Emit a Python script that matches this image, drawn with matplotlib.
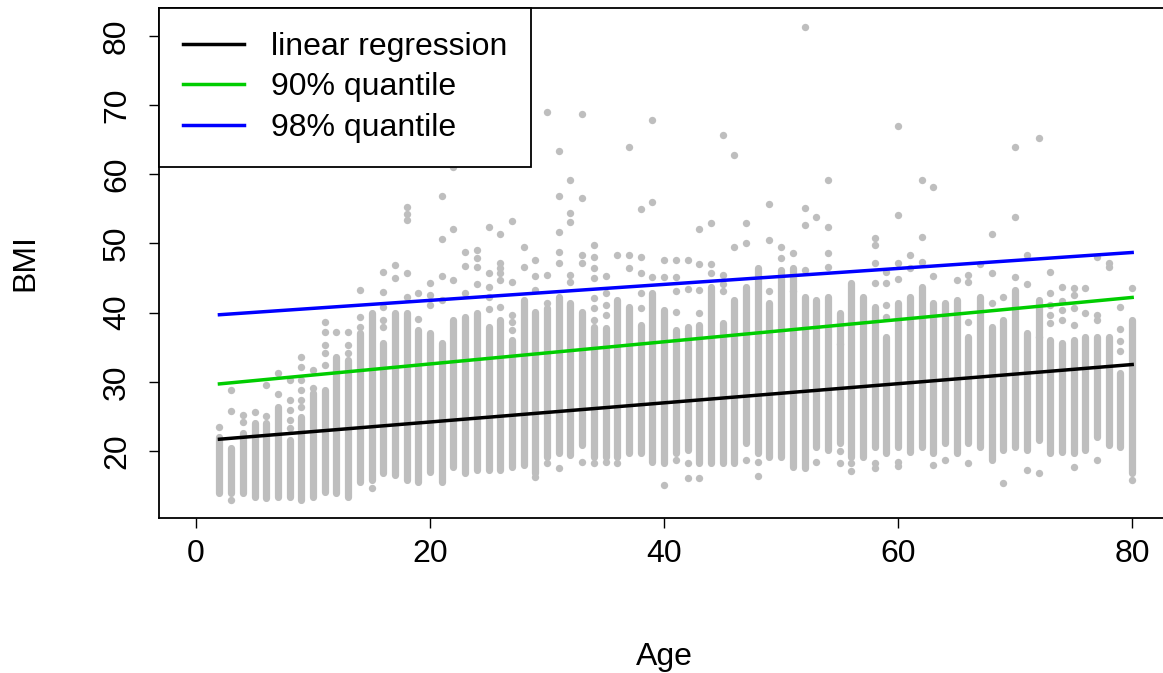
import numpy as np
import matplotlib
matplotlib.use("Agg")
import matplotlib.pyplot as plt

plt.rcParams['font.family'] = ['Liberation Sans', 'DejaVu Sans']

# ages with observations (one stripe per integer age)
ages = list(range(2, 81))
# dense part of each stripe (BMI low / high)
core_lo = [13.9, 13.9, 13.9, 13.4, 13.2, 13.4, 13.4, 12.9, 13.4, 14.1,
           13.9, 13.4, 15.5, 15.8, 16.8, 16.5, 15.8, 15.5, 17.0, 15.5,
           17.7, 16.8, 17.3, 17.3, 17.3, 17.7, 18.0, 16.8, 19.1, 19.7,
           19.4, 20.9, 19.1, 19.1, 19.1, 19.7, 19.7, 18.4, 18.3, 19.7,
           20.1, 18.3, 18.3, 18.3, 18.3, 21.2, 19.7, 19.1, 19.1, 17.7,
           17.5, 20.6, 20.1, 21.2, 19.1, 19.1, 20.6, 19.7, 20.6, 19.9,
           20.6, 19.7, 21.2, 19.7, 21.2, 20.6, 18.7, 20.1, 20.6, 20.1,
           21.6, 19.7, 19.9, 19.7, 20.1, 22.0, 20.9, 20.6, 16.8]
core_hi = [22.0, 20.4, 22.6, 24.0, 24.0, 26.4, 21.6, 24.9, 28.4, 28.8,
           33.6, 33.2, 37.1, 40.0, 35.6, 40.0, 40.0, 37.5, 37.1, 35.6,
           38.9, 39.4, 40.0, 37.9, 38.9, 36.0, 41.8, 40.1, 40.7, 42.3,
           41.4, 40.1, 37.9, 37.8, 41.8, 40.8, 38.2, 42.8, 40.4, 37.5,
           37.9, 38.2, 43.7, 38.5, 41.8, 43.7, 46.5, 41.4, 46.2, 46.5,
           42.3, 41.8, 42.3, 40.0, 44.3, 42.3, 40.8, 36.5, 41.4, 42.3,
           43.7, 41.4, 41.4, 41.8, 36.5, 42.3, 37.9, 38.9, 43.3, 37.1,
           41.8, 36.0, 35.6, 36.0, 36.5, 36.5, 36.5, 31.3, 38.9]

# isolated points outside the dense stripes
out_age = [2, 3, 3, 3, 4, 4, 5, 6, 6, 7, 7,
           8, 8, 8, 8, 8, 9, 9, 9, 9, 9, 9, 10, 10,
           11, 11, 11, 11, 11, 12, 13, 13, 13, 14, 14, 14, 15,
           16, 16, 16, 16, 16, 17, 17, 18, 18, 18, 18, 18, 19, 19,
           20, 20, 20, 21, 21, 21, 21, 22, 22, 22, 23, 23, 23,
           24, 24, 24, 24, 25, 25, 25, 25, 25, 25,
           26, 26, 26, 26, 26, 26, 27, 27, 27, 27, 27, 28, 28,
           29, 29, 29, 29, 30, 30, 30, 30, 31, 31, 31, 31, 31, 31,
           32, 32, 32, 32, 32, 33, 33, 33, 33, 33,
           34, 34, 34, 34, 34, 34, 34, 34, 35, 35, 35, 35, 35,
           36, 36, 37, 37, 37, 38, 38, 38, 38, 38, 39, 39, 39,
           40, 40, 40, 41, 41, 41, 41, 41, 42, 42, 42, 42,
           43, 43, 43, 43, 43, 44, 44, 44, 45, 45, 45, 45,
           46, 46, 47, 47, 47, 48, 48, 49, 49, 49, 50, 50, 51, 51,
           52, 52, 52, 52, 53, 53, 54, 54, 54, 54, 55, 55, 55, 56, 56,
           58, 58, 58, 58, 58, 58, 59, 59, 59, 59,
           60, 60, 60, 60, 60, 60, 61, 61, 62, 62, 62, 63, 63, 63,
           64, 65, 66, 66, 66, 66, 67, 68, 68, 68, 69, 69,
           70, 70, 70, 71, 71, 71, 72, 72, 72, 73, 73, 73, 73, 73,
           74, 74, 74, 74, 75, 75, 75, 75, 75, 76, 76,
           77, 77, 77, 77, 78, 78, 79, 79, 79, 79, 80, 80]
out_bmi = [23.5, 28.8, 25.8, 12.9, 25.2, 24.2, 25.6, 25.1, 29.5, 28.2, 31.3,
           23.3, 24.5, 25.9, 27.4, 30.3, 26.4, 27.4, 28.8, 30.3, 32.1, 33.6, 29.1, 31.7,
           32.4, 34.2, 35.3, 37.2, 38.6, 37.2, 34.2, 35.3, 37.2, 37.9, 39.4, 43.3, 14.7,
           37.9, 38.9, 40.8, 43.0, 45.9, 45.0, 46.9, 42.3, 45.7, 53.4, 54.3, 55.3, 39.1, 42.8,
           41.1, 42.6, 44.3, 41.8, 45.3, 50.6, 56.9, 44.7, 52.1, 61.1, 42.8, 46.7, 48.8,
           44.1, 46.6, 47.9, 49.1, 40.6, 42.3, 43.7, 45.7, 52.4, 80.6,
           40.8, 44.7, 45.7, 46.5, 47.2, 51.4, 37.5, 38.6, 39.6, 44.4, 53.3, 46.6, 49.5,
           43.3, 45.3, 47.6, 16.2, 41.4, 45.4, 18.3, 69.0, 47.2, 48.8, 51.7, 56.9, 63.4, 17.5,
           44.4, 45.4, 53.1, 54.4, 59.2, 47.2, 48.3, 56.6, 68.7, 18.4,
           38.9, 40.7, 42.1, 45.0, 46.5, 48.0, 49.8, 18.3, 39.7, 41.1, 42.8, 45.3, 18.4,
           48.3, 18.3, 46.5, 48.3, 64.0, 40.7, 42.8, 45.7, 48.0, 55.0, 45.2, 56.0, 67.9,
           45.2, 47.6, 15.1, 40.1, 43.1, 45.2, 47.6, 18.7, 43.4, 47.6, 18.3, 16.1,
           39.9, 43.3, 47.0, 52.1, 16.1, 45.7, 47.0, 53.0, 43.2, 44.2, 45.4, 65.7,
           49.5, 62.8, 50.1, 53.0, 18.7, 18.4, 16.4, 43.1, 50.5, 55.7, 47.9, 49.5, 43.1, 48.6,
           46.2, 52.7, 55.1, 81.3, 18.4, 53.8, 52.4, 59.2, 48.6, 46.6, 35.5, 20.0, 18.3, 18.3, 17.1,
           44.3, 47.2, 49.8, 50.8, 18.3, 17.5, 39.4, 41.1, 44.3, 45.9,
           44.9, 47.2, 54.1, 67.0, 18.4, 17.9, 46.5, 48.3, 47.3, 50.9, 59.2, 45.3, 58.2, 18.0,
           18.7, 44.7, 38.6, 45.4, 44.4, 18.3, 47.0, 41.4, 45.7, 51.4, 42.3, 15.4,
           45.2, 53.8, 64.0, 44.1, 48.3, 17.3, 36.5, 16.8, 65.3, 38.5, 39.7, 41.1, 42.8, 45.9,
           38.9, 40.4, 41.7, 43.7, 38.2, 40.7, 42.5, 43.6, 17.7, 40.0, 43.6,
           38.9, 39.6, 48.0, 18.7, 46.6, 47.2, 34.5, 35.9, 37.6, 40.8, 15.8, 43.6]

# fitted lines: value at age 2 and age 80
fit_x = [2, 80]
lm_fit = [21.7, 32.5]
q90_fit = [29.7, 42.2]
q98_fit = [39.7, 48.7]

fig = plt.figure(figsize=(11.63, 6.73), dpi=100)
W, H = 1163, 673
ax = fig.add_axes([158.6 / W, 155 / H, 1011 / W, 510 / H])
ax.set_xlim(-3.2, 83.2)
ax.set_ylim(10.31, 84.05)

grey = '#BEBEBE'
for a, lo, hi in zip(ages, core_lo, core_hi):
    ax.plot([a, a], [lo, hi], color=grey, lw=5.2, solid_capstyle='round', zorder=1)
ax.scatter(out_age, out_bmi, s=28, color=grey, linewidths=0, zorder=1)

ax.plot(fit_x, lm_fit, color='black', lw=2.5, label='linear regression', zorder=3)
ax.plot(fit_x, q90_fit, color='#00CD00', lw=2.5, label='90% quantile', zorder=3)
ax.plot(fit_x, q98_fit, color='#0000FF', lw=2.5, label='98% quantile', zorder=3)

fs = 23
ax.set_xticks([0, 20, 40, 60, 80])
ax.set_yticks([20, 30, 40, 50, 60, 70, 80])
ax.tick_params(axis='both', length=7.2, width=1, labelsize=fs, color='black')
ax.tick_params(axis='x', pad=8)
ax.tick_params(axis='y', pad=12)
for lab in ax.get_yticklabels():
    lab.set_rotation(90)
    lab.set_va('center')
for sp in ['left', 'bottom', 'top']:
    ax.spines[sp].set_linewidth(1.3)
ax.spines['right'].set_visible(False)

leg = ax.legend(loc='upper left', bbox_to_anchor=(0, 1), borderaxespad=0,
                fontsize=fs, frameon=True, fancybox=False, edgecolor='black',
                handlelength=1.9, handletextpad=0.85, labelspacing=0.32,
                borderpad=0.76)
leg.get_frame().set_linewidth(1.3)
leg.get_frame().set_alpha(1)

fig.text(664 / W, 1 - 657 / H, 'Age', ha='center', va='center', fontsize=fs)
fig.text(25 / W, 1 - 263 / H, 'BMI', ha='center', va='center', fontsize=fs, rotation=90)

fig.savefig('out.png', dpi=100)
